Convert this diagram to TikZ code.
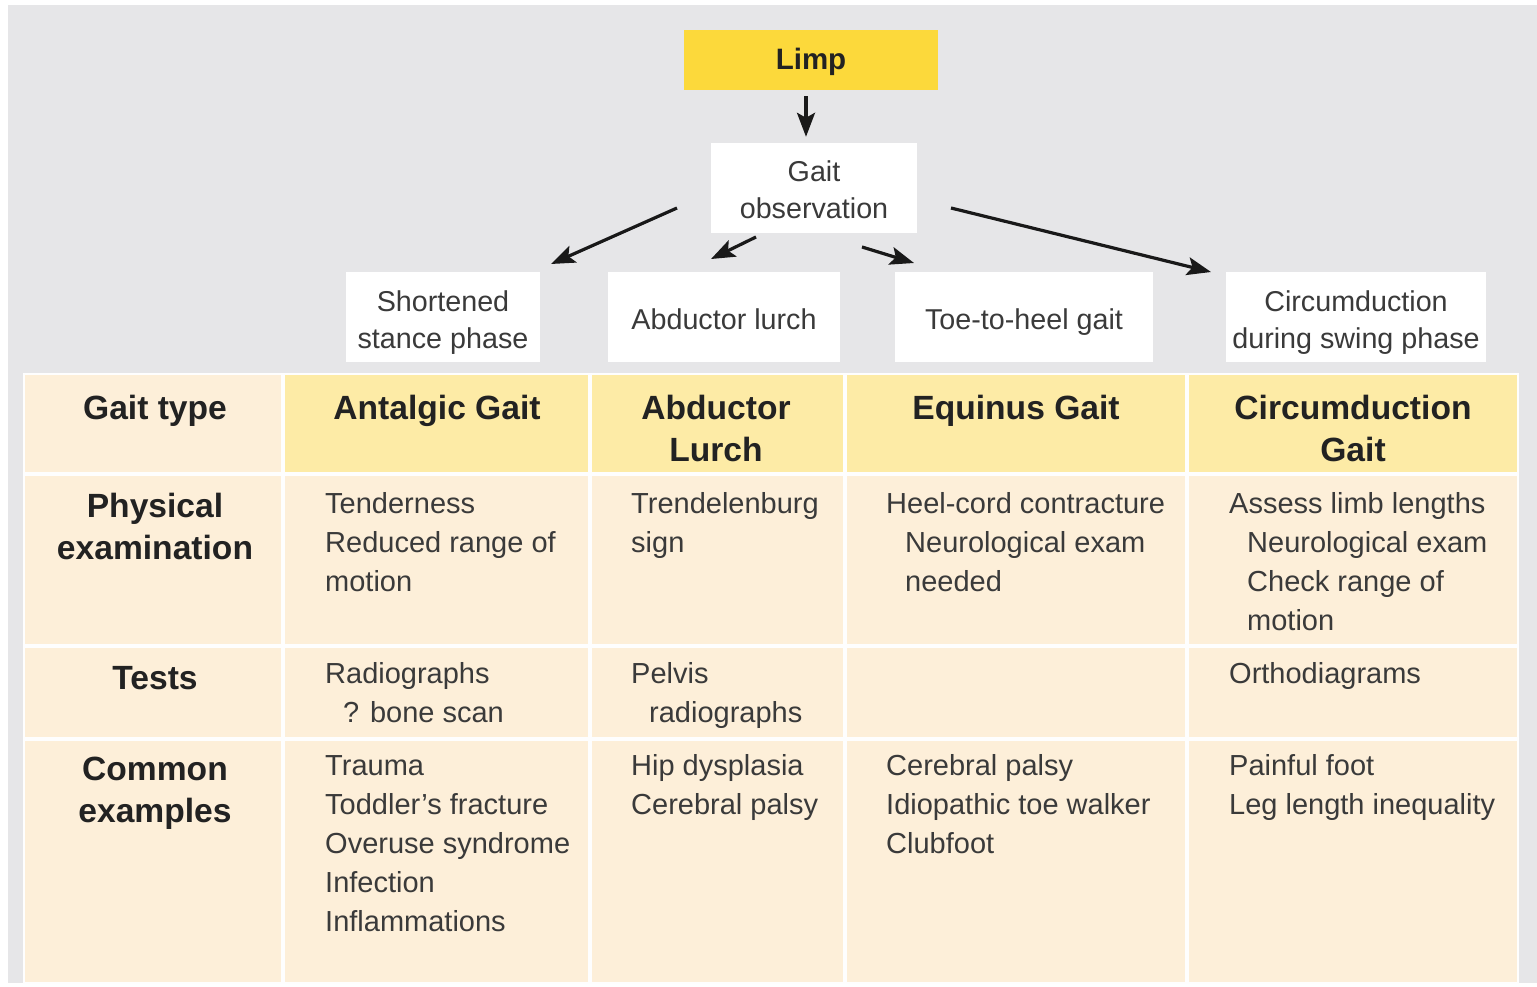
\documentclass[tikz,border=0pt]{standalone}
\usepackage{fontspec}
\setmainfont{Liberation Sans}
\usetikzlibrary{arrows.meta}
\definecolor{bggray}{HTML}{E6E6E8}
\definecolor{peach}{HTML}{FDEFD9}
\definecolor{hdryellow}{HTML}{FDEBA6}
\definecolor{limpyellow}{HTML}{FCD93B}
\definecolor{txt}{HTML}{3A3A3A}
\definecolor{hdrtxt}{HTML}{222222}
\newcommand\gstrutA{\rule{0pt}{31pt}}
\newcommand\gstrutB{\rule[-6pt]{0pt}{6pt}}
\newcommand\cellstrut{\rule{0pt}{40pt}}
\tikzset{
  flowbox/.style={fill=white, inner sep=0pt, align=center, text=txt,
    font=\fontsize{28.7}{37}\selectfont, minimum height=90pt},
  onebox/.style={flowbox, text height=30pt, text depth=6pt},
  limpbox/.style={fill=limpyellow, inner sep=0pt, text=hdrtxt,
    font=\bfseries\fontsize{29.5}{35}\selectfont,
    text height=26pt, text depth=6pt},
  arr/.style={line width=3.2pt, draw=black!90,
    -{Stealth[length=24pt,width=18pt,inset=5pt]}},
  body/.style={anchor=north west, inner sep=0pt, align=left, text=txt,
    font=\fontsize{29}{39}\selectfont},
  hdr/.style={anchor=north, inner sep=0pt, align=center, text=hdrtxt,
    font=\bfseries\fontsize{33.6}{42}\selectfont},
}
\begin{document}
\begin{tikzpicture}[x=1pt,y=-1pt]
\useasboundingbox (0,0) rectangle (1537,987);
\fill[bggray] (8,5) rectangle (1537,983);

% table cells
\fill[white!97!bggray] (23,373) rectangle (1519,984);
\fill[peach] (25,375) rectangle (281,472);
\foreach \xa/\xb in {285/588,592/843,847/1185,1189/1517}
  \fill[hdryellow] (\xa,375) rectangle (\xb,472);
\foreach \xa/\xb in {25/281,285/588,592/843,847/1185,1189/1517}
  \foreach \ya/\yb in {476/644,648/737,741/982}
    \fill[peach] (\xa,\ya) rectangle (\xb,\yb);

% flow chart
\node[limpbox, minimum width=254pt, minimum height=60pt] (limp) at (811,60) {Limp};
\node[flowbox, minimum width=206pt] (gait) at (814,188) {\gstrutA Gait\\observation\gstrutB};
\node[flowbox, minimum width=194pt] (stance) at (443,317) {\gstrutA Shortened\\stance phase\gstrutB};
\node[onebox, minimum width=232pt] (lurch) at (724,317) {Abductor lurch};
\node[onebox, minimum width=258pt] (toe) at (1024,317) {Toe-to-heel gait};
\node[flowbox, minimum width=260pt] (circ) at (1356,317) {\gstrutA Circumduction\\during swing phase\gstrutB};

\coordinate (g1) at (677,208); \coordinate (s1) at (551,264);
\coordinate (g2) at (756,237); \coordinate (s2) at (711,259);
\coordinate (g3) at (862,247); \coordinate (s3) at (914,263);
\coordinate (g4) at (951,208); \coordinate (s4) at (1211,272);

\draw[arr, shorten <=6pt, shorten >=6pt] ([xshift=-5pt]limp.south) -- ([xshift=-8pt]gait.north);
\draw[arr] (g1) -- (s1);
\draw[arr] (g2) -- (s2);
\draw[arr] (g3) -- (s3);
\draw[arr] (g4) -- (s4);

% table headers
\node[hdr] (h0) at (155,379) {\cellstrut Gait type};
\node[hdr] (h1) at (437,379) {\cellstrut Antalgic Gait};
\node[hdr] (h2) at (716,379) {\cellstrut Abductor\\Lurch};
\node[hdr] (h3) at (1016,379) {\cellstrut Equinus Gait};
\node[hdr] (h4) at (1353,379) {\cellstrut Circumduction\\Gait};

\node[hdr] (r1) at (155,477) {\cellstrut Physical\\examination};
\node[hdr] (r2) at (155,649) {\cellstrut Tests};
\node[hdr] (r3) at (155,740) {\cellstrut Common\\examples};

% physical examination row
\node[body] (pe1) at (325,473) {\cellstrut Tenderness\\Reduced range of\\motion};
\node[body] (pe2) at (631,473) {\cellstrut Trendelenburg\\sign};
\node[body] (pe3) at (886,473) {\cellstrut Heel-cord contracture\\\hspace*{19pt}Neurological exam\\\hspace*{19pt}needed};
\node[body] (pe4) at (1229,473) {\cellstrut Assess limb lengths\\\hspace*{18pt}Neurological exam\\\hspace*{18pt}Check range of\\\hspace*{18pt}motion};

% tests row
\node[body] (t1) at (325,643) {\cellstrut Radiographs\\\hspace*{18pt}? bone scan};
\node[body] (t2) at (631,643) {\cellstrut Pelvis\\\hspace*{18pt}radiographs};
\node[body] (t4) at (1229,643) {\cellstrut Orthodiagrams};

% common examples row
\node[body] (c1) at (325,735) {\cellstrut Trauma\\Toddler’s fracture\\Overuse syndrome\\Infection\\Inflammations};
\node[body] (c2) at (631,735) {\cellstrut Hip dysplasia\\Cerebral palsy};
\node[body] (c3) at (886,735) {\cellstrut Cerebral palsy\\Idiopathic toe walker\\Clubfoot};
\node[body] (c4) at (1229,735) {\cellstrut Painful foot\\Leg length inequality};
\end{tikzpicture}
\end{document}
